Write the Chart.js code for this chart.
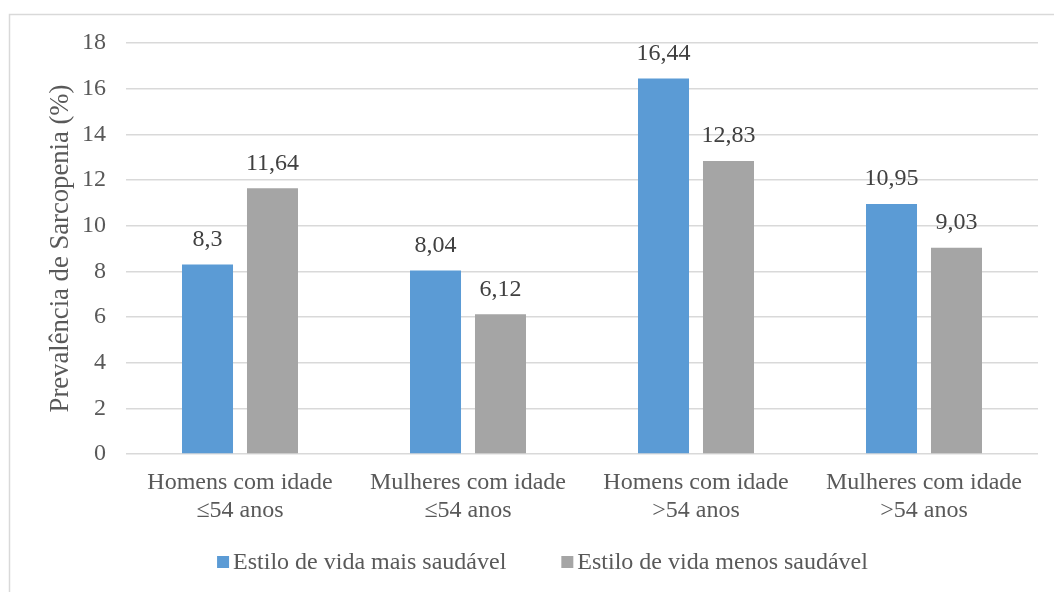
<!DOCTYPE html>
<html>
<head>
<meta charset="utf-8">
<script src="https://cdn.jsdelivr.net/npm/chart.js@4/dist/chart.umd.min.js"></script>
<style>
  html, body { margin: 0; padding: 0; background: #fff; }
  #wrap { position: relative; width: 1054px; height: 592px; }
</style>
</head>
<body>
<div id="wrap"><canvas id="c" width="1054" height="592"></canvas></div>
<script>
const categories = [
  ["Homens com idade", "\u226454 anos"],
  ["Mulheres com idade", "\u226454 anos"],
  ["Homens com idade", ">54 anos"],
  ["Mulheres com idade", ">54 anos"]
];
const seriesNames = ["Estilo de vida mais saudável", "Estilo de vida menos saudável"];
const healthier = [8.3, 8.04, 16.44, 10.95];
const lessHealthy = [11.64, 6.12, 12.83, 9.03];
const yTitle = "Prevalência de Sarcopenia (%)";

const FONT = "'Liberation Serif', 'Times New Roman', serif";

const framePlugin = {
  id: 'frame',
  beforeDraw(chart) {
    const ctx = chart.ctx;
    ctx.save();
    ctx.fillStyle = '#ffffff';
    ctx.fillRect(0, 0, chart.width, chart.height);
    ctx.strokeStyle = '#d9d9d9';
    ctx.lineWidth = 1.5;
    ctx.beginPath();
    ctx.moveTo(9.5, chart.height);
    ctx.lineTo(9.5, 14.5);
    ctx.lineTo(chart.width, 14.5);
    ctx.stroke();
    ctx.restore();
  }
};

const valueLabels = {
  id: 'valueLabels',
  afterDatasetsDraw(chart) {
    const ctx = chart.ctx;
    ctx.save();
    ctx.font = "24px " + FONT;
    ctx.fillStyle = '#404040';
    ctx.textAlign = 'center';
    ctx.textBaseline = 'middle';
    chart.data.datasets.forEach((ds, di) => {
      const meta = chart.getDatasetMeta(di);
      meta.data.forEach((bar, i) => {
        const txt = String(ds.data[i]).replace('.', ',');
        ctx.fillText(txt, bar.x, bar.y - 25);
      });
    });
    ctx.restore();
  }
};

// Legend drawn in Excel style: small square, narrow gap, wide item spacing
const excelLegend = {
  id: 'excelLegend',
  afterDraw(chart) {
    const ctx = chart.ctx;
    const box = 12, textGap = 4, itemGap = 55, centerX = 542.5, centerY = 562;
    ctx.save();
    ctx.font = "24px " + FONT;
    ctx.textBaseline = 'middle';
    ctx.textAlign = 'left';
    const items = chart.data.datasets.map(ds => ({
      text: ds.label, color: ds.backgroundColor, w: ctx.measureText(ds.label).width
    }));
    let total = 0;
    items.forEach((it, i) => { total += box + textGap + it.w + (i < items.length - 1 ? itemGap : 0); });
    let x = centerX - total / 2;
    items.forEach(it => {
      ctx.fillStyle = it.color;
      ctx.fillRect(x, centerY - box / 2, box, box);
      ctx.fillStyle = '#595959';
      ctx.fillText(it.text, x + box + textGap, centerY + 1);
      x += box + textGap + it.w + itemGap;
    });
    ctx.restore();
  }
};

new Chart(document.getElementById('c'), {
  type: 'bar',
  data: {
    labels: categories,
    datasets: [
      { label: seriesNames[0], data: healthier, backgroundColor: '#5B9BD5', borderWidth: 0,
        categoryPercentage: 0.57, barPercentage: 0.785 },
      { label: seriesNames[1], data: lessHealthy, backgroundColor: '#A5A5A5', borderWidth: 0,
        categoryPercentage: 0.57, barPercentage: 0.785 }
    ]
  },
  options: {
    responsive: false,
    animation: false,
    devicePixelRatio: 1,
    layout: { padding: { left: 40, right: 16, top: 43, bottom: 48 } },
    plugins: {
      tooltip: { enabled: false },
      legend: { display: false }
    },
    scales: {
      x: {
        grid: { display: false, drawTicks: false },
        border: { display: false },
        ticks: {
          font: { family: FONT, size: 24 },
          color: '#595959',
          padding: 14,
          maxRotation: 0,
          autoSkip: false
        },
        afterFit(scale) { scale.height = 90; }
      },
      y: {
        min: 0,
        max: 18,
        grid: { color: '#d9d9d9', lineWidth: 1.5, drawTicks: false },
        border: { display: false },
        ticks: {
          stepSize: 2,
          font: { family: FONT, size: 24 },
          color: '#595959',
          padding: 20
        },
        title: {
          display: true,
          text: yTitle,
          font: { family: FONT, size: 26.67 },
          color: '#595959',
          padding: { top: 5, bottom: 0 }
        },
        afterFit(scale) { scale.width = 86; }
      }
    }
  },
  plugins: [framePlugin, valueLabels, excelLegend]
});
</script>
</body>
</html>
